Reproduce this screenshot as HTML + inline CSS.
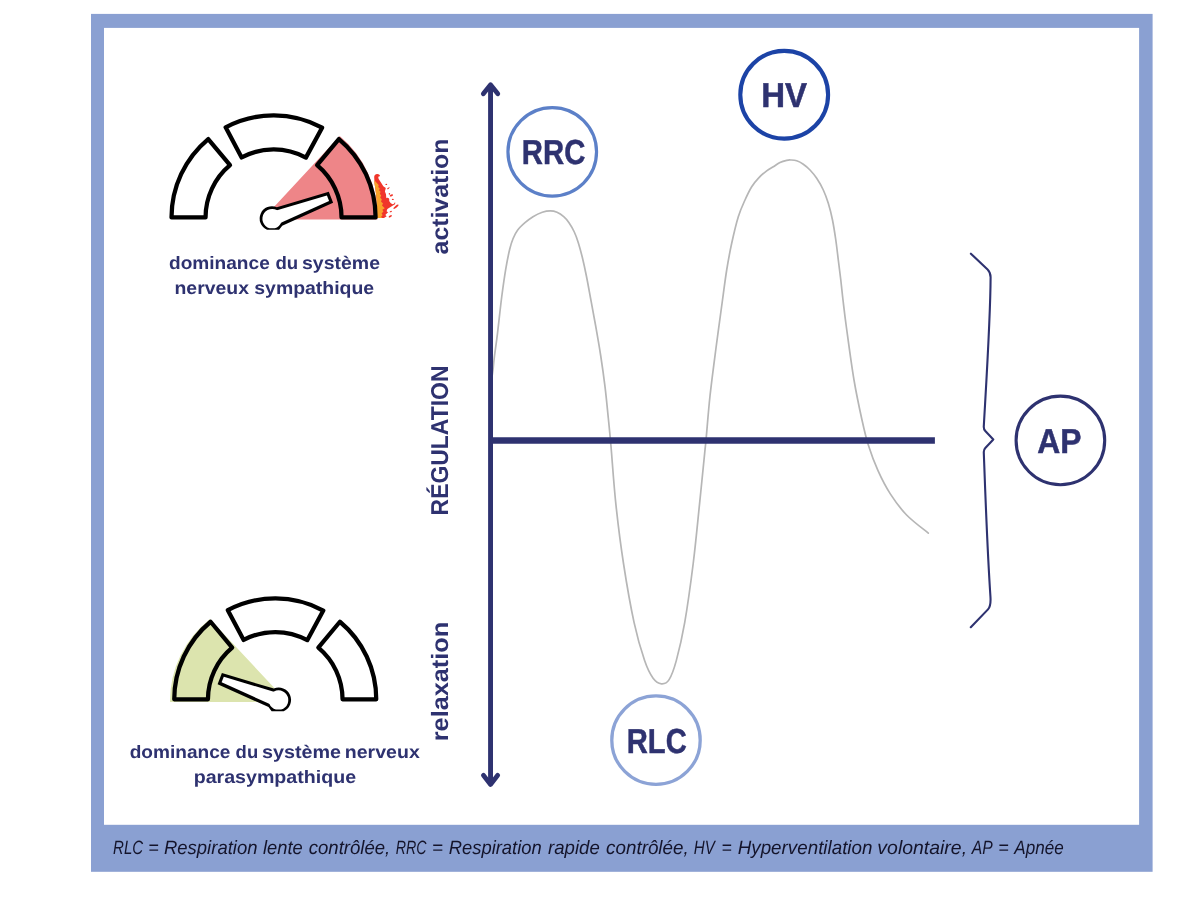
<!DOCTYPE html>
<html lang="fr"><head><meta charset="utf-8"><title>Régulation</title>
<style>
html,body{margin:0;padding:0;background:#fff;}
body{width:1200px;height:900px;overflow:hidden;font-family:"Liberation Sans",sans-serif;}
svg{display:block;font-family:"Liberation Sans",sans-serif;will-change:transform;}
text{text-rendering:geometricPrecision;}
</style></head><body>
<svg width="1200" height="900" viewBox="0 0 1200 900">
<rect x="0" y="0" width="1200" height="900" fill="#fff"/>
<rect x="91" y="13.9" width="1061.6" height="857.9" fill="#8aa0d2"/>
<rect x="104" y="27.9" width="1035.1" height="796.9" fill="#fff"/>
<g fill="#14142b">
<text x="113.07" y="853.80" font-size="19.20" textLength="30.05" lengthAdjust="spacingAndGlyphs" font-style="italic">RLC</text>
<text x="148.18" y="853.80" font-size="19.20" textLength="10.51" lengthAdjust="spacingAndGlyphs" font-style="italic">=</text>
<text x="164.01" y="853.80" font-size="19.20" textLength="93.44" lengthAdjust="spacingAndGlyphs" font-style="italic">Respiration</text>
<text x="263.01" y="853.80" font-size="19.20" textLength="39.74" lengthAdjust="spacingAndGlyphs" font-style="italic">lente</text>
<text x="308.72" y="853.80" font-size="19.20" textLength="81.55" lengthAdjust="spacingAndGlyphs" font-style="italic">contrôlée,</text>
<text x="395.78" y="853.80" font-size="19.20" textLength="30.75" lengthAdjust="spacingAndGlyphs" font-style="italic">RRC</text>
<text x="432.12" y="853.80" font-size="19.20" textLength="10.98" lengthAdjust="spacingAndGlyphs" font-style="italic">=</text>
<text x="448.71" y="853.80" font-size="19.20" textLength="93.03" lengthAdjust="spacingAndGlyphs" font-style="italic">Respiration</text>
<text x="548.01" y="853.80" font-size="19.20" textLength="51.75" lengthAdjust="spacingAndGlyphs" font-style="italic">rapide</text>
<text x="606.11" y="853.80" font-size="19.20" textLength="82.58" lengthAdjust="spacingAndGlyphs" font-style="italic">contrôlée,</text>
<text x="693.76" y="853.80" font-size="19.20" textLength="20.98" lengthAdjust="spacingAndGlyphs" font-style="italic">HV</text>
<text x="721.60" y="853.80" font-size="19.20" textLength="10.28" lengthAdjust="spacingAndGlyphs" font-style="italic">=</text>
<text x="737.71" y="853.80" font-size="19.20" textLength="134.76" lengthAdjust="spacingAndGlyphs" font-style="italic">Hyperventilation</text>
<text x="877.39" y="853.80" font-size="19.20" textLength="89.67" lengthAdjust="spacingAndGlyphs" font-style="italic">volontaire,</text>
<text x="971.68" y="853.80" font-size="19.20" textLength="20.94" lengthAdjust="spacingAndGlyphs" font-style="italic">AP</text>
<text x="998.17" y="853.80" font-size="19.20" textLength="10.51" lengthAdjust="spacingAndGlyphs" font-style="italic">=</text>
<text x="1014.37" y="853.80" font-size="19.20" textLength="49.36" lengthAdjust="spacingAndGlyphs" font-style="italic">Apnée</text>
</g>
<g>
<path d="M262.36 219.62 L338.89 137.05 L339.68 136.10 A104.45 104.45 0 0 1 377.35 219.62 Z" fill="#ee8588"/>
<g>
<path d="M374.2 177.6 C373.9 175.3 375.6 173.9 377.3 174 C379 174.1 380.2 175.2 380 176.4 C379.3 175.9 378.4 176.2 378.3 177.2 C378.3 178.2 378.6 178.8 379 179.4 L381.3 183 L383.3 186.3 L385.8 187.9 L384.9 191.6 L386 194.3 L386.3 198.2 C387.4 197.4 388.6 197.9 389.3 199 C389 200 389.2 201.4 390 202.3 C390.8 203.4 391.8 204.2 392.8 204.2 C393.8 204 394.7 203 395 201.9 C395.5 203 395.2 204 394.6 204.6 L391.3 206.4 L387.4 209 C386.8 210 386.6 211 386.8 211.7 L388.3 212 L385.3 215 L386.7 216.3 L384 218.1 L377 218.1 C377.4 204 376 192 374.6 184 L374.2 177.6 Z" fill="#f0362b"/>
<path d="M374.3 180.2 L378.7 185 L378.2 187 L379.8 188.4 L379 190.2 L380.6 191.8 L379.8 193.8 L381.2 195.4 L380.2 197.4 L381.8 199.6 L381 201.6 L383 203.6 L382 205.4 L384.8 208.2 L382.4 209.8 L383.4 211.8 L381.6 213.2 L382.6 215.2 L381.2 216.4 L382 218.1 L377 218.1 C377.3 204 376 192 374.6 184 L374.3 180.2 Z" fill="#f9a32b"/>
<g fill="#f0362b">
<ellipse cx="386.3" cy="184.4" rx="0.9" ry="0.6"/>
<ellipse cx="388.4" cy="188.2" rx="1.5" ry="0.6" transform="rotate(-35 388.4 188.2)"/>
<ellipse cx="389.4" cy="193.8" rx="0.7" ry="0.9"/>
<ellipse cx="391.4" cy="195.4" rx="1.8" ry="0.9" transform="rotate(-25 391.4 195.4)"/>
<ellipse cx="392.8" cy="199.4" rx="1" ry="0.6"/>
<ellipse cx="396" cy="206.8" rx="3.2" ry="1" transform="rotate(-38 396 206.8)"/>
<ellipse cx="390.8" cy="211.6" rx="1.2" ry="0.6" transform="rotate(-20 390.8 211.6)"/>
<ellipse cx="390.3" cy="216.3" rx="1.8" ry="0.8" transform="rotate(-30 390.3 216.3)"/>
</g>
</g>
</g>
<g fill="none" stroke="#000" stroke-width="4.25" stroke-linejoin="round">
<path d="M171.50 217.45 A102.05 102.05 0 0 1 208.23 139.05 L230.02 165.21 A68.00 68.00 0 0 0 205.55 217.45 Z"/>
<path d="M225.64 127.35 A102.05 102.05 0 0 1 322.09 127.68 L305.89 157.63 A68.00 68.00 0 0 0 241.63 157.41 Z"/>
<path d="M338.87 139.05 A102.05 102.05 0 0 1 375.60 217.45 L341.55 217.45 A68.00 68.00 0 0 0 317.08 165.21 Z"/>
</g>
<g transform="translate(272.20 218.75) scale(1.0000 1.0000)"><path d="M4.65 -11.48 L56.60 -27.05 L60.90 -15.95 L10.00 6.95 L6.90 11.05 L-5.17 11.05 A12.20 12.20 0 1 1 4.65 -11.48 Z" fill="#000"/><path d="M-0.24 -6.88 L54.71 -23.35 L56.88 -17.76 L3.17 6.40 Z" fill="#fff"/><path d="M-2.60 9.45 A9.80 9.80 0 1 1 2.60 9.45 Z" fill="#fff"/></g>
<g transform="translate(550.50 0) scale(-1 1)">
<path d="M262.99 701.98 L339.93 619.77 L340.60 618.91 A104.80 104.80 0 0 1 380.45 701.98 Z" fill="#dce4ae"/>
</g>
<g fill="none" stroke="#000" stroke-width="4.25" stroke-linejoin="round">
<path d="M174.25 699.35 A101.00 101.00 0 0 1 210.60 621.75 L232.17 647.64 A67.30 67.30 0 0 0 207.95 699.35 Z"/>
<path d="M227.83 610.17 A101.00 101.00 0 0 1 323.29 610.51 L307.26 640.15 A67.30 67.30 0 0 0 243.65 639.93 Z"/>
<path d="M339.90 621.75 A101.00 101.00 0 0 1 376.25 699.35 L342.55 699.35 A67.30 67.30 0 0 0 318.33 647.64 Z"/>
</g>
<g transform="translate(278.50 700.10) scale(-1.0000 1.0000)"><path d="M4.65 -11.48 L56.60 -27.05 L60.90 -15.95 L10.00 6.95 L6.90 11.05 L-5.17 11.05 A12.20 12.20 0 1 1 4.65 -11.48 Z" fill="#000"/><path d="M-0.24 -6.88 L54.71 -23.35 L56.88 -17.76 L3.17 6.40 Z" fill="#fff"/><path d="M-2.60 9.45 A9.80 9.80 0 1 1 2.60 9.45 Z" fill="#fff"/></g>
<g font-weight="bold" fill="#2e3270">
<text x="169.00" y="269.00" font-size="18.00" textLength="100.77" lengthAdjust="spacingAndGlyphs" font-weight="bold">dominance</text>
<text x="275.42" y="269.00" font-size="18.00" textLength="22.78" lengthAdjust="spacingAndGlyphs" font-weight="bold">du</text>
<text x="301.99" y="269.00" font-size="18.00" textLength="77.99" lengthAdjust="spacingAndGlyphs" font-weight="bold">système</text>
<text x="174.49" y="293.50" font-size="18.00" textLength="74.49" lengthAdjust="spacingAndGlyphs" font-weight="bold">nerveux</text>
<text x="254.29" y="293.50" font-size="18.00" textLength="119.89" lengthAdjust="spacingAndGlyphs" font-weight="bold">sympathique</text>
<text x="129.70" y="757.70" font-size="18.00" textLength="100.67" lengthAdjust="spacingAndGlyphs" font-weight="bold">dominance</text>
<text x="235.62" y="757.70" font-size="18.00" textLength="22.56" lengthAdjust="spacingAndGlyphs" font-weight="bold">du</text>
<text x="261.98" y="757.70" font-size="18.00" textLength="79.11" lengthAdjust="spacingAndGlyphs" font-weight="bold">système</text>
<text x="344.78" y="757.70" font-size="18.00" textLength="75.00" lengthAdjust="spacingAndGlyphs" font-weight="bold">nerveux</text>
<text x="193.67" y="782.60" font-size="18.00" textLength="162.41" lengthAdjust="spacingAndGlyphs" font-weight="bold">parasympathique</text>
<text transform="translate(448.30 254.39) rotate(-90)" font-size="23.60" textLength="115.79" lengthAdjust="spacingAndGlyphs" font-weight="bold">activation</text>
<text transform="translate(447.50 515.43) rotate(-90)" font-size="24.40" textLength="149.95" lengthAdjust="spacingAndGlyphs" font-weight="bold">RÉGULATION</text>
<text transform="translate(448.40 741.28) rotate(-90)" font-size="23.60" textLength="119.50" lengthAdjust="spacingAndGlyphs" font-weight="bold">relaxation</text>
</g>
<path d="M491.50 380.00 C491.75 378.33 492.55 373.62 493.00 370.00 C493.45 366.38 493.45 364.42 494.20 358.30 C494.95 352.18 496.25 343.52 497.50 333.30 C498.75 323.08 500.33 307.67 501.70 297.00 C503.07 286.33 504.37 277.25 505.70 269.30 C507.03 261.35 508.48 254.40 509.70 249.30 C510.92 244.20 511.67 241.92 513.00 238.70 C514.33 235.48 515.70 232.67 517.70 230.00 C519.70 227.33 522.45 224.92 525.00 222.70 C527.55 220.48 530.12 218.43 533.00 216.70 C535.88 214.97 539.42 213.27 542.30 212.30 C545.18 211.33 547.85 210.90 550.30 210.90 C552.75 210.90 554.77 211.33 557.00 212.30 C559.23 213.27 561.70 214.97 563.70 216.70 C565.70 218.43 567.23 220.15 569.00 222.70 C570.77 225.25 572.75 228.67 574.30 232.00 C575.85 235.33 576.97 238.48 578.30 242.70 C579.63 246.92 580.95 251.75 582.30 257.30 C583.65 262.85 584.98 268.97 586.40 276.00 C587.82 283.03 589.28 291.33 590.80 299.50 C592.32 307.67 593.87 315.75 595.50 325.00 C597.13 334.25 599.02 344.72 600.60 355.00 C602.18 365.28 603.72 376.20 605.00 386.70 C606.28 397.20 607.32 408.23 608.30 418.00 C609.28 427.77 609.63 430.90 610.90 445.30 C612.17 459.70 613.80 484.70 615.90 504.40 C618.00 524.10 620.47 543.80 623.50 563.50 C626.53 583.20 630.58 606.42 634.10 622.60 C637.62 638.78 641.43 651.32 644.60 660.60 C647.77 669.88 650.28 674.43 653.10 678.30 C655.92 682.17 658.83 683.58 661.50 683.80 C664.17 684.02 666.63 683.47 669.10 679.60 C671.57 675.73 673.70 670.10 676.30 660.60 C678.90 651.10 681.88 638.78 684.70 622.60 C687.52 606.42 690.73 583.20 693.20 563.50 C695.67 543.80 697.60 522.68 699.50 504.40 C701.40 486.12 703.48 464.87 704.60 453.80 C705.72 442.73 705.30 447.63 706.20 438.00 C707.10 428.37 708.37 411.00 710.00 396.00 C711.63 381.00 713.92 364.00 716.00 348.00 C718.08 332.00 720.72 313.00 722.50 300.00 C724.28 287.00 725.17 279.45 726.70 270.00 C728.23 260.55 729.77 252.18 731.70 243.30 C733.63 234.42 736.08 223.92 738.30 216.70 C740.52 209.48 742.77 205.00 745.00 200.00 C747.23 195.00 749.48 190.32 751.70 186.70 C753.92 183.08 755.80 180.95 758.30 178.30 C760.80 175.65 764.20 172.73 766.70 170.80 C769.20 168.87 771.08 168.08 773.30 166.70 C775.52 165.32 777.77 163.57 780.00 162.50 C782.23 161.43 784.90 160.72 786.70 160.30 C788.50 159.88 789.13 159.92 790.80 160.00 C792.47 160.08 794.62 160.10 796.70 160.80 C798.78 161.50 801.08 162.67 803.30 164.20 C805.52 165.73 807.77 167.65 810.00 170.00 C812.23 172.35 814.48 174.97 816.70 178.30 C818.92 181.63 821.37 185.83 823.30 190.00 C825.23 194.17 826.77 198.30 828.30 203.30 C829.83 208.30 831.25 213.88 832.50 220.00 C833.75 226.12 834.83 233.33 835.80 240.00 C836.77 246.67 837.47 253.33 838.30 260.00 C839.13 266.67 840.02 273.33 840.80 280.00 C841.58 286.67 842.05 292.00 843.00 300.00 C843.95 308.00 844.67 314.67 846.50 328.00 C848.33 341.33 851.42 364.67 854.00 380.00 C856.58 395.33 859.60 409.12 862.00 420.00 C864.40 430.88 865.73 436.85 868.40 445.30 C871.07 453.75 874.35 462.60 878.00 470.70 C881.65 478.80 885.53 486.52 890.30 493.90 C895.07 501.28 900.27 508.47 906.60 515.00 C912.93 521.53 924.68 530.08 928.30 533.10" fill="none" stroke="#b6b6b6" stroke-width="1.7" stroke-linecap="round"/>
<g stroke="#2e3270" fill="none" stroke-linecap="round" stroke-linejoin="round">
<path d="M490.55 85 V784.2" stroke-width="4.9" stroke-linecap="butt"/>
<path d="M483.3 93.8 L490.55 84.7 L497.8 93.8" stroke-width="4.7"/>
<path d="M483.4 775.3 L490.55 784.5 L497.7 775.3" stroke-width="4.7"/>
<path d="M490.6 440.45 H934.9" stroke-width="6.6" stroke-linecap="butt"/>
</g>
<circle cx="552.25" cy="151.85" r="44.3" fill="#fff" stroke="#5c80c8" stroke-width="3.2"/>
<circle cx="784.2" cy="94.75" r="43.9" fill="#fff" stroke="#1c43a6" stroke-width="4.1"/>
<circle cx="656" cy="740.15" r="44.2" fill="#fff" stroke="#8ca3d6" stroke-width="3.3"/>
<circle cx="1060.4" cy="440.4" r="44.3" fill="#fff" stroke="#2e3270" stroke-width="3.1"/>
<g font-weight="bold" fill="#2e3270">
<g stroke="#2e3270" stroke-width="0.5">
<text x="521.87" y="163.70" font-size="34.70" textLength="63.49" lengthAdjust="spacingAndGlyphs" font-weight="bold">RRC</text>
<text x="761.24" y="106.70" font-size="34.70" textLength="45.80" lengthAdjust="spacingAndGlyphs" font-weight="bold">HV</text>
<text x="626.78" y="752.50" font-size="34.70" textLength="59.98" lengthAdjust="spacingAndGlyphs" font-weight="bold">RLC</text>
<text x="1037.30" y="452.90" font-size="34.70" textLength="44.24" lengthAdjust="spacingAndGlyphs" font-weight="bold">AP</text>
</g>
</g>
<path d="M970.9 253.7 L987.6 269.4 Q990.5 272.2 990.6 277.2 C990.4 320 985.5 395 983.8 426.4 Q983.6 429.2 985.3 431 L993.3 439.5 L985.3 448 Q983.6 449.8 983.8 452.6 C985.0 485 987.0 545 990.4 596 Q991.2 606 988 609.4 L970.8 627.2" fill="none" stroke="#2e3270" stroke-width="2.1" stroke-linejoin="round" stroke-linecap="round"/>
</svg></body></html>
